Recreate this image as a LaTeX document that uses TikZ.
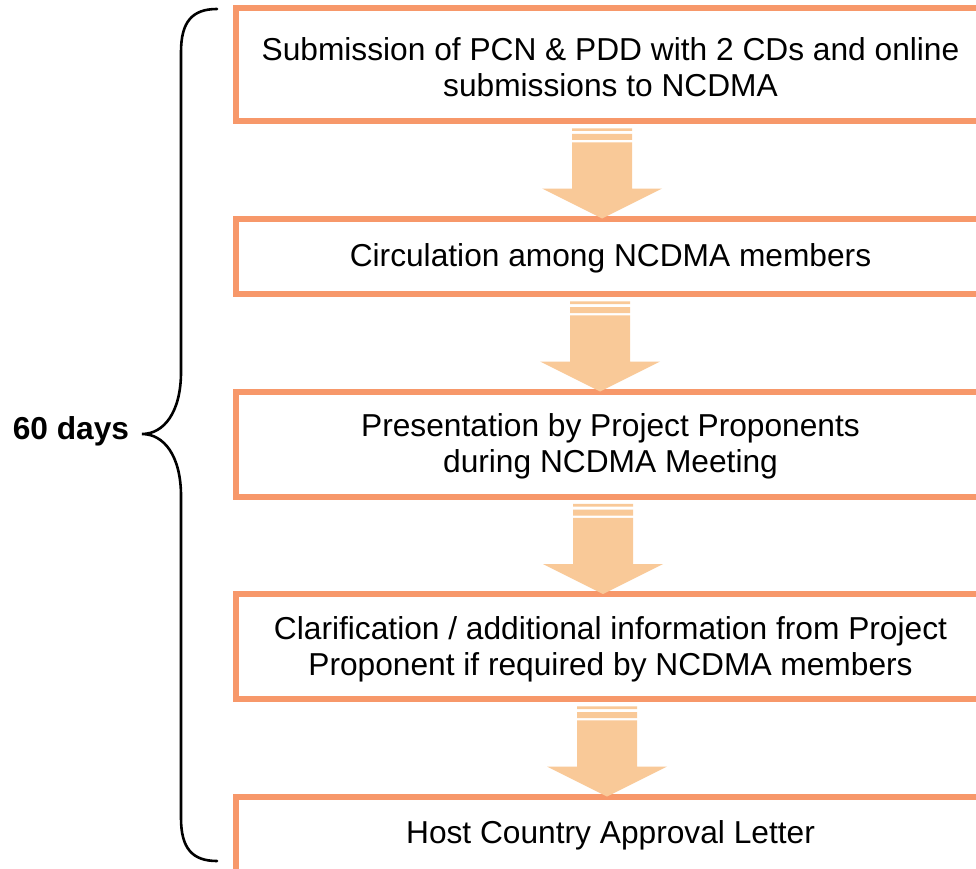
\documentclass[tikz,border=0pt]{standalone}
\usepackage{fontspec}
\setmainfont{Liberation Sans}
\usetikzlibrary{calc}
\definecolor{boxcol}{RGB}{247,152,106}
\definecolor{arrowcol}{RGB}{249,201,152}
\tikzset{
  stepbox/.style={draw=boxcol, line width=6pt, fill=white, outer sep=0pt, inner sep=0pt,
    minimum width=749pt},
  steptext/.style={align=center, inner sep=0pt, yshift=-2.5pt, font=\fontsize{31.7}{36}\selectfont},
  bracepath/.style={draw=black, line width=2.6pt, line cap=round}
}
\newcommand\blockarrow[3]{%
  \fill[arrowcol] let \p1=(#2.south), \p2=(#3.north) in
    ({#1pt-30pt},{\y1-7.3pt}) rectangle ({#1pt+30pt},{\y1-10pt})
    ({#1pt-30pt},{\y1-13pt}) rectangle ({#1pt+30pt},{\y1-19pt})
    ({#1pt-30pt},{\y1-21.3pt}) -- ({#1pt-30pt},{\y2+30pt}) -- ({#1pt-60pt},{\y2+30pt})
    -- ({#1pt},{\y2}) -- ({#1pt+60pt},{\y2+30pt}) -- ({#1pt+30pt},{\y2+30pt})
    -- ({#1pt+30pt},{\y1-21.3pt}) -- cycle;
}
\begin{document}
\begin{tikzpicture}[x=1pt,y=-1pt]
\useasboundingbox (0,0) rectangle (976,869);
\clip (0,0) rectangle (976,869);
\fill[white] (0,0) rectangle (976,869);

\node[stepbox, minimum height=112.5pt] (b1) at (610.5,64.75) {};
\node[stepbox, minimum height=75.5pt] (b2) at (610.5,256.25) {};
\node[stepbox, minimum height=105pt] (b3) at (610.5,444) {};
\node[stepbox, minimum height=105pt] (b4) at (610.5,646.5) {};
\node[stepbox, minimum height=84pt] (b5) at (610.5,838.5) {};

\node[steptext] (t1) at (b1.center) {Submission of PCN \& PDD with 2 CDs and online\\submissions to NCDMA};
\node[steptext] (t2) at (b2.center) {Circulation among NCDMA members};
\node[steptext] (t3) at (b3.center) {Presentation by Project Proponents\\during NCDMA Meeting};
\node[steptext] (t4) at (b4.center) {Clarification / additional information from Project\\Proponent if required by NCDMA members};
\node[steptext] (t5) at (610.5,833.25) {Host Country Approval Letter};

\blockarrow{602}{b1}{b2}
\blockarrow{600}{b2}{b3}
\blockarrow{603}{b3}{b4}
\blockarrow{607}{b4}{b5}

\node[font=\fontsize{31.7}{36}\selectfont\bfseries, inner sep=0pt] (days) at (71,431.5) {60 days};

\coordinate (btop) at (217,9);
\coordinate (btip) at (142,434);
\coordinate (bbot) at (217,861);
\draw[bracepath] (btop) .. controls (192,9) and (181,22) .. (181,52)
  -- (181,372) .. controls (181,412) and (164,434) .. (btip)
  .. controls (164,434) and (181,456) .. (181,496)
  -- (181,818) .. controls (181,848) and (192,861) .. (bbot);
\end{tikzpicture}
\end{document}
